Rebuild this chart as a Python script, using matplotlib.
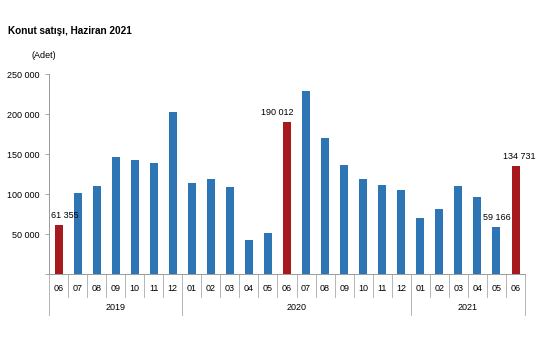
import numpy as np
import matplotlib.pyplot as plt
from matplotlib.ticker import FuncFormatter

plt.rcParams['font.family'] = ['Liberation Sans', 'DejaVu Sans']

# Aylık konut satışları (adet)
aylar = ['06', '07', '08', '09', '10', '11', '12',
         '01', '02', '03', '04', '05', '06', '07', '08', '09', '10', '11', '12',
         '01', '02', '03', '04', '05', '06']
satis = [61355, 101500, 109900, 146500, 142600, 138400, 202100,
         113500, 118800, 108700, 42800, 51300, 190012, 229400, 170200, 135800, 119000, 111700, 105600,
         70400, 81100, 110500, 95800, 59166, 134731]
vurgulu = [0, 12, 24]          # Haziran ayları kırmızı
etiketli = [0, 12, 23, 24]     # değer etiketi olan çubuklar
yillar = ['2019', '2020', '2021']
yil_sinir = [0, 7, 19, 25]

mavi = '#2E75B6'
kirmizi = '#A6191C'

fig = plt.figure(figsize=(5.55, 3.55), dpi=100)
ax = fig.add_axes([0.0883, 0.228, 0.8577, 0.5634])

x = np.arange(len(satis))
renkler = [kirmizi if i in vurgulu else mavi for i in x]
ax.bar(x, satis, width=0.42, color=renkler)

ax.set_xlim(-0.5, len(satis) - 0.5)
ax.set_ylim(0, 250000)
ax.set_yticks(np.arange(0, 250001, 50000))
ax.yaxis.set_major_formatter(FuncFormatter(
    lambda v, p: '' if v == 0 else f'{int(v):,}'.replace(',', ' ')))
ax.tick_params(axis='y', length=3, width=0.6, color='#999999', labelsize=6.5, pad=4)

ax.set_xticks(x)
ax.set_xticklabels(aylar)
ax.tick_params(axis='x', length=0, labelsize=6.5, pad=7)

for s in ['top', 'right']:
    ax.spines[s].set_visible(False)
for s in ['left', 'bottom']:
    ax.spines[s].set_color('#999999')
    ax.spines[s].set_linewidth(0.7)

# ay ayraçları ve yıl grupları
tr = ax.get_xaxis_transform()
for i in range(len(satis) + 1):
    alt = -0.205 if i in yil_sinir else -0.115
    ax.plot([i - 0.5, i - 0.5], [0, alt], color='#AAAAAA', lw=0.6,
            transform=tr, clip_on=False)
for yil, a, b in zip(yillar, yil_sinir[:-1], yil_sinir[1:]):
    ax.text((a + b - 1) / 2, -0.165, yil, transform=tr, ha='center', va='center', fontsize=6.5)

# değer etiketleri
kaydir = {0: 0.35, 12: -0.5, 23: 0.0, 24: 0.2}
for i in etiketli:
    ax.text(i + kaydir[i], satis[i] + 6000, f'{satis[i]:,}'.replace(',', ' '),
            ha='center', va='bottom', fontsize=6.5)

fig.text(8 / 555, 1 - 31 / 355, 'Konut satışı, Haziran 2021', fontsize=7.2,
         fontweight='bold', va='center', ha='left')
fig.text(44 / 555, 1 - 55 / 355, '(Adet)', fontsize=6.5, va='center', ha='center')

fig.savefig('out.png', dpi=100)
